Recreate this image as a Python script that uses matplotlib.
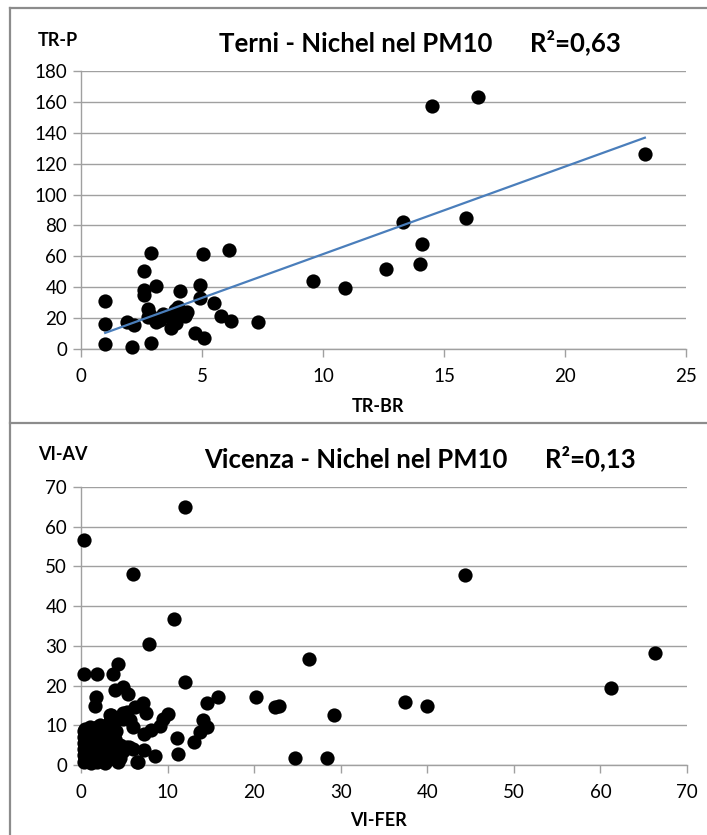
import numpy as np
import matplotlib
matplotlib.use('Agg')
import matplotlib.pyplot as plt
from matplotlib.lines import Line2D

plt.rcParams['font.family'] = ['Lato', 'DejaVu Sans']

# Terni
tr_br = [1.0, 1.0, 1.0, 1.9, 2.2, 2.1, 2.9, 2.6, 2.6, 2.6, 2.75, 2.75, 3.1, 3.1, 2.9,
         3.4, 3.7, 3.8, 4.1, 4.0, 4.2, 4.3, 4.9, 4.9, 5.05, 4.7, 5.1, 5.5, 5.8, 6.2,
         6.1, 7.3, 9.6, 10.9, 12.6, 13.3, 14.0, 14.1, 14.5, 15.9, 16.4, 23.3,
         3.66, 3.87, 4.28, 3.93, 4.4, 2.84, 3.25]
tr_p = [31, 16.5, 3, 17.6, 15.5, 1.5, 62, 50.5, 38, 35, 25.8, 20.5, 41, 17.6, 3.7,
        22.5, 13.3, 18.7, 37.6, 27.3, 23.4, 21.5, 41.3, 32.7, 61.3, 10.1, 6.9, 29.5, 21.5, 18.3,
        64, 17.6, 44, 39.3, 51.6, 82.5, 54.8, 68, 157.4, 84.6, 163.2, 126,
        20.9, 25.2, 21.9, 16.6, 24, 21.9, 18.7]

# Vicenza
vi_fer = [0.4, 12.0, 6.0, 44.3, 10.7, 7.9, 4.3, 0.4, 1.8, 3.75, 12.0, 26.3, 66.3, 61.2,
          37.4, 40.0, 20.2, 22.4, 22.9, 29.2, 24.7, 28.4, 15.8, 14.5, 14.5, 14.1, 13.7,
          13.1, 11.1, 11.25, 10.0, 9.5, 9.1, 8.1, 7.3, 8.6, 6.5, 7.3, 7.2, 7.55, 6.0, 5.7,
          5.4, 4.8, 3.9, 1.7, 1.56, 3.4, 4.9, 4.3, 5.3, 6.2, 6.6, 4.5, 5.5, 6.0,
          0.3, 0.3, 0.3, 0.3, 0.3, 0.4, 0.8, 0.8, 0.9, 0.9, 0.8, 1.2, 1.3, 1.3, 1.4, 1.5,
          1.6, 1.8, 1.9, 2.0, 2.0, 2.1, 2.4, 2.5, 2.5, 2.6, 2.8, 2.9, 3.0, 3.0, 3.1, 3.3,
          3.4, 3.5, 3.6, 3.8, 3.9, 4.0, 4.2, 4.5, 4.8, 5.2, 1.0, 2.2, 3.5, 5.0, 4.8,
          0.5, 0.6, 0.6, 1.0, 1.1, 1.1, 1.7, 1.7, 1.7, 2.2, 2.3, 2.3, 2.7, 2.8, 3.2,
          3.2, 3.3, 3.7, 3.7, 2.9, 1.9, 0.5, 4.1, 3.6, 4.4]
vi_av = [56.7, 65.0, 48.0, 47.9, 36.8, 30.5, 25.5, 23.0, 23.0, 23.0, 20.9, 26.7, 28.1, 19.4,
         15.8, 14.9, 17.2, 14.7, 14.8, 12.5, 1.8, 1.8, 17.0, 15.7, 9.6, 11.3, 8.4,
         5.7, 6.7, 2.7, 12.8, 11.5, 9.8, 8.8, 7.7, 2.3, 0.7, 3.8, 15.5, 13.2, 9.6, 11.3,
         17.8, 19.7, 18.9, 17.2, 14.8, 12.6, 13.0, 0.7, 13.4, 14.7, 0.8, 1.8, 4.5, 4.0,
         0.8, 2.5, 4.0, 5.5, 7.0, 8.5, 1.0, 3.0, 5.0, 6.5, 8.0, 0.6, 2.0, 4.0, 6.0, 7.5,
         9.0, 0.8, 3.0, 5.0, 7.0, 8.5, 1.5, 3.5, 6.0, 8.0, 0.6, 4.5, 2.5, 7.0, 9.5, 11.0,
         5.5, 3.5, 8.0, 10.5, 6.5, 4.5, 2.5, 5.0, 3.5, 4.5, 9.5, 10.0, 12.5, 12.0, 11.5,
         1.5, 3.5, 6.0, 2.5, 4.5, 7.0, 1.5, 4.0, 6.5, 2.5, 4.5, 7.5, 2.0, 5.5, 1.5,
         4.0, 6.5, 2.0, 9.5, 9.0, 9.5, 9.0, 8.5, 5.0, 3.5]

panels = [
    dict(x=tr_br, y=tr_p, xlim=(0, 25), xstep=5, ylim=(0, 180), ystep=20,
         ylab='TR-P', xlab='TR-BR', title='Terni - Nichel nel PM10      R²=0,63',
         rect=[81/707, 1-349/835, 605/707, 278/835], trend=True,
         ylab_y=1-40/835, title_y=1-42/835, xlab_y=1-407/835),
    dict(x=vi_fer, y=vi_av, xlim=(0, 70), xstep=10, ylim=(0, 70), ystep=10,
         ylab='VI-AV', xlab='VI-FER', title='Vicenza - Nichel nel PM10      R²=0,13',
         rect=[81/707, 1-765/835, 606/707, 278/835], trend=False,
         ylab_y=1-454/835, title_y=1-458/835, xlab_y=1-820/835),
]

fig = plt.figure(figsize=(7.07, 8.35), dpi=100)
grey = '#a0a0a0'
for p in panels:
    ax = fig.add_axes(p['rect'])
    ax.scatter(p['x'], p['y'], s=105, color='black', zorder=3, linewidths=0, clip_on=False)
    if p['trend']:
        k, b = np.polyfit(p['x'], p['y'], 1)
        xs = np.array([min(p['x']), max(p['x'])])
        ax.plot(xs, k*xs + b, color='#4a7ebb', lw=1.6, zorder=4)
    ax.set_xlim(*p['xlim'])
    ax.set_ylim(*p['ylim'])
    ax.set_xticks(np.arange(p['xlim'][0], p['xlim'][1] + 1, p['xstep']))
    ax.set_yticks(np.arange(p['ylim'][0], p['ylim'][1] + 1, p['ystep']))
    ax.grid(axis='y', color=grey, lw=1)
    ax.set_axisbelow(True)
    for s in ['top', 'right']:
        ax.spines[s].set_visible(False)
    for s in ['left', 'bottom']:
        ax.spines[s].set_color(grey)
        ax.spines[s].set_linewidth(1)
    ax.tick_params(colors=grey, labelcolor='black', labelsize=13.5, length=6, width=1)
    ax.tick_params(axis='x', pad=8)
    ax.tick_params(axis='y', pad=4)
    fig.text(38/707, p['ylab_y'], p['ylab'], fontsize=13, fontweight='bold', va='center')
    fig.text(420/707, p['title_y'], p['title'], fontsize=18.5, fontweight='bold',
             ha='center', va='center')
    fig.text(378/707, p['xlab_y'], p['xlab'], fontsize=13, fontweight='bold',
             ha='center', va='center')

# chart borders
bc = '#8c8c8c'
fig.add_artist(Line2D([10/707, 10/707], [0, 1-8/835], color=bc, lw=1.6))
fig.add_artist(Line2D([10/707, 1], [1-8/835, 1-8/835], color=bc, lw=1.6))
fig.add_artist(Line2D([10/707, 1], [1-423/835, 1-423/835], color=bc, lw=1.6))

fig.savefig('out.png', dpi=100)
